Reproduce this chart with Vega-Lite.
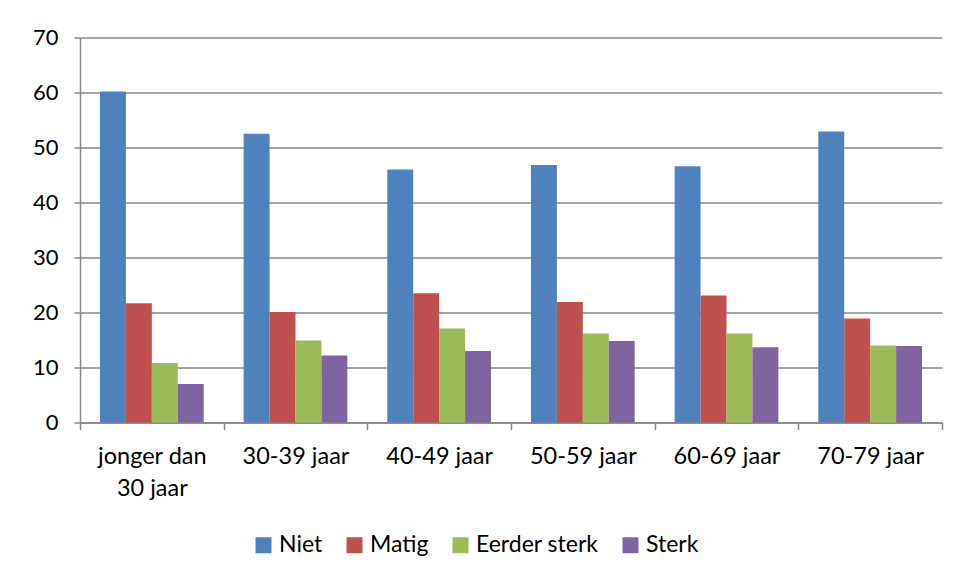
{
  "$schema": "https://vega.github.io/schema/vega-lite/v6.json",
  "autosize": "none",
  "width": 862,
  "height": 385,
  "padding": {"left": 80, "top": 37.5, "right": 18, "bottom": 155.5},
  "background": "white",
  "config": {
    "view": {"stroke": null},
    "font": "Lato",
    "axis": {"labelFont": "Lato", "labelColor": "#000000", "labelFontSize": 21, "domainColor": "#868686", "tickColor": "#868686", "gridColor": "#868686", "domainWidth": 1.5, "tickWidth": 1.5, "gridWidth": 1.5}
  },
  "data": {
    "values": [
      {"age": "jonger dan 30 jaar", "cat": "Niet", "value": 60.2},
      {"age": "jonger dan 30 jaar", "cat": "Matig", "value": 21.7},
      {"age": "jonger dan 30 jaar", "cat": "Eerder sterk", "value": 10.8},
      {"age": "jonger dan 30 jaar", "cat": "Sterk", "value": 7.0},
      {"age": "30-39 jaar", "cat": "Niet", "value": 52.5},
      {"age": "30-39 jaar", "cat": "Matig", "value": 20.1},
      {"age": "30-39 jaar", "cat": "Eerder sterk", "value": 14.9},
      {"age": "30-39 jaar", "cat": "Sterk", "value": 12.2},
      {"age": "40-49 jaar", "cat": "Niet", "value": 46.0},
      {"age": "40-49 jaar", "cat": "Matig", "value": 23.5},
      {"age": "40-49 jaar", "cat": "Eerder sterk", "value": 17.1},
      {"age": "40-49 jaar", "cat": "Sterk", "value": 13.0},
      {"age": "50-59 jaar", "cat": "Niet", "value": 46.8},
      {"age": "50-59 jaar", "cat": "Matig", "value": 21.9},
      {"age": "50-59 jaar", "cat": "Eerder sterk", "value": 16.2},
      {"age": "50-59 jaar", "cat": "Sterk", "value": 14.8},
      {"age": "60-69 jaar", "cat": "Niet", "value": 46.6},
      {"age": "60-69 jaar", "cat": "Matig", "value": 23.1},
      {"age": "60-69 jaar", "cat": "Eerder sterk", "value": 16.2},
      {"age": "60-69 jaar", "cat": "Sterk", "value": 13.7},
      {"age": "70-79 jaar", "cat": "Niet", "value": 52.9},
      {"age": "70-79 jaar", "cat": "Matig", "value": 18.9},
      {"age": "70-79 jaar", "cat": "Eerder sterk", "value": 14.0},
      {"age": "70-79 jaar", "cat": "Sterk", "value": 13.9}
    ]
  },
  "mark": {"type": "bar"},
  "encoding": {
    "x": {
      "field": "age", "type": "nominal", "sort": null,
      "scale": {"paddingInner": 0, "paddingOuter": 0},
      "axis": {"title": null, "labelAngle": 0, "tickBand": "extent", "tickSize": 7, "labelPadding": 15, "labelBaseline": "top", "labelFontSize": 23.5, "labelLineHeight": 32,
        "labelExpr": "datum.label == 'jonger dan 30 jaar' ? ['jonger dan', '30 jaar'] : datum.label"}
    },
    "xOffset": {
      "field": "cat", "type": "nominal", "sort": ["Niet", "Matig", "Eerder sterk", "Sterk"],
      "scale": {"paddingInner": 0, "paddingOuter": 0.77}
    },
    "y": {
      "field": "value", "type": "quantitative",
      "scale": {"domain": [0, 70], "nice": false},
      "axis": {"title": null, "values": [0, 10, 20, 30, 40, 50, 60, 70], "tickSize": 6, "labelPadding": 16, "labelFontSize": 22}
    },
    "color": {
      "field": "cat", "type": "nominal", "sort": ["Niet", "Matig", "Eerder sterk", "Sterk"],
      "scale": {"domain": ["Niet", "Matig", "Eerder sterk", "Sterk"], "range": ["#4F81BD", "#C0504D", "#9BBB59", "#8064A2"]},
      "legend": {"title": null, "orient": "none", "legendX": 172, "legendY": 496, "direction": "horizontal", "symbolType": "square", "symbolSize": 256, "symbolStrokeWidth": 0, "labelFontSize": 23, "labelFont": "Lato", "labelColor": "#000000", "labelOffset": 4, "columnPadding": 20}
    }
  }
}
